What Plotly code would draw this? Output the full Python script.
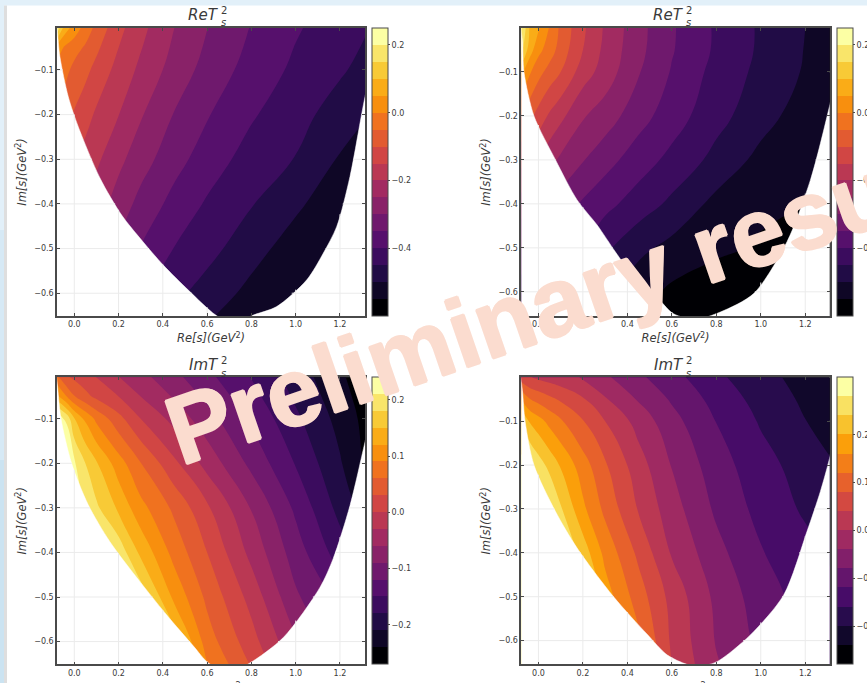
import numpy as np
import plotly.graph_objects as go
from plotly.colors import sample_colorscale

W, H = 867, 683

grid_x = [-0.08, -0.04, 0.0, 0.05, 0.1, 0.2, 0.3, 0.45, 0.6, 0.8, 1.0, 1.2, 1.32]
grid_y = [0.0, -0.05, -0.1, -0.2, -0.3, -0.4, -0.5, -0.6, -0.66]

z_a = [
    [0.22, 0.085, 0.037, -0.015, -0.06, -0.133, -0.184, -0.248, -0.298, -0.352, -0.393, -0.428, -0.447],
    [0.03, -0.01, -0.03, -0.057, -0.09, -0.15, -0.197, -0.258, -0.307, -0.36, -0.402, -0.435, -0.455],
    [-0.01, -0.035, -0.065, -0.087, -0.115, -0.168, -0.211, -0.27, -0.318, -0.37, -0.41, -0.444, -0.465],
    [-0.06, -0.085, -0.105, -0.13, -0.158, -0.199, -0.245, -0.302, -0.346, -0.394, -0.433, -0.471, -0.496],
    [-0.10, -0.12, -0.15, -0.17, -0.19, -0.237, -0.278, -0.331, -0.374, -0.421, -0.452, -0.505, -0.54],
    [-0.12, -0.14, -0.17, -0.2, -0.225, -0.272, -0.316, -0.366, -0.406, -0.447, -0.49, -0.535, -0.545],
    [-0.16, -0.18, -0.21, -0.24, -0.265, -0.31, -0.353, -0.401, -0.433, -0.48, -0.525, -0.545, -0.549],
    [-0.2, -0.22, -0.25, -0.28, -0.31, -0.35, -0.39, -0.437, -0.47, -0.515, -0.545, -0.549, -0.549],
    [-0.22, -0.24, -0.27, -0.3, -0.33, -0.37, -0.41, -0.46, -0.497, -0.535, -0.549, -0.549, -0.549],
]
z_b = [
    [0.22, 0.096, 0.057, -0.004, -0.061, -0.141, -0.207, -0.283, -0.344, -0.407, -0.457, -0.50, -0.515],
    [0.17, 0.075, 0.014, -0.024, -0.072, -0.15, -0.213, -0.286, -0.346, -0.408, -0.458, -0.502, -0.52],
    [0.07, 0.007, -0.032, -0.07, -0.1, -0.175, -0.223, -0.296, -0.354, -0.417, -0.463, -0.505, -0.525],
    [-0.05, -0.085, -0.12, -0.158, -0.187, -0.245, -0.274, -0.33, -0.376, -0.433, -0.48, -0.525, -0.545],
    [-0.13, -0.165, -0.2, -0.233, -0.26, -0.297, -0.331, -0.376, -0.414, -0.465, -0.515, -0.545, -0.549],
    [-0.22, -0.25, -0.28, -0.30, -0.32, -0.357, -0.385, -0.423, -0.461, -0.515, -0.54, -0.549, -0.549],
    [-0.30, -0.32, -0.34, -0.355, -0.37, -0.40, -0.44, -0.487, -0.515, -0.54, -0.556, -0.56, -0.56],
    [-0.38, -0.39, -0.41, -0.42, -0.43, -0.46, -0.49, -0.53, -0.56, -0.578, -0.59, -0.6, -0.6],
    [-0.42, -0.43, -0.45, -0.46, -0.47, -0.5, -0.53, -0.56, -0.58, -0.595, -0.6, -0.6, -0.6],
]
z_c = [
    [0.06, 0.027, 0.018, 0.008, -0.004, -0.033, -0.053, -0.084, -0.114, -0.153, -0.194, -0.236, -0.258],
    [0.13, 0.095, 0.062, 0.039, 0.023, 0.0, -0.03, -0.063, -0.097, -0.14, -0.185, -0.228, -0.255],
    [0.24, 0.207, 0.152, 0.114, 0.083, 0.04, 0.0, -0.04, -0.078, -0.125, -0.174, -0.22, -0.25],
    [0.24, 0.24, 0.215, 0.18, 0.153, 0.104, 0.061, 0.007, -0.041, -0.098, -0.152, -0.207, -0.245],
    [0.24, 0.24, 0.24, 0.21, 0.186, 0.144, 0.10, 0.054, 0.005, -0.062, -0.126, -0.19, -0.225],
    [0.24, 0.24, 0.24, 0.24, 0.24, 0.2, 0.143, 0.08, 0.03, -0.039, -0.105, -0.165, -0.2],
    [0.24, 0.24, 0.24, 0.24, 0.24, 0.24, 0.2, 0.113, 0.053, -0.011, -0.085, -0.13, -0.15],
    [0.24, 0.24, 0.24, 0.24, 0.24, 0.24, 0.24, 0.17, 0.075, 0.012, -0.056, -0.11, -0.13],
    [0.24, 0.24, 0.24, 0.24, 0.24, 0.24, 0.24, 0.2, 0.095, 0.03, -0.04, -0.09, -0.11],
]
z_d = [
    [0.06, 0.042, 0.032, 0.023, 0.015, -0.003, -0.033, -0.072, -0.106, -0.151, -0.188, -0.213, -0.225],
    [0.165, 0.122, 0.107, 0.09, 0.074, 0.044, 0.004, -0.044, -0.085, -0.134, -0.175, -0.207, -0.22],
    [0.25, 0.197, 0.175, 0.148, 0.125, 0.082, 0.04, -0.015, -0.066, -0.121, -0.164, -0.199, -0.22],
    [0.29, 0.29, 0.26, 0.227, 0.196, 0.138, 0.085, 0.017, -0.042, -0.102, -0.145, -0.178, -0.197],
    [0.29, 0.29, 0.29, 0.29, 0.245, 0.169, 0.11, 0.037, -0.023, -0.087, -0.133, -0.166, -0.185],
    [0.29, 0.29, 0.29, 0.29, 0.29, 0.223, 0.148, 0.071, -0.004, -0.067, -0.117, -0.147, -0.165],
    [0.29, 0.29, 0.29, 0.29, 0.29, 0.27, 0.18, 0.10, 0.026, -0.05, -0.10, -0.137, -0.155],
    [0.29, 0.29, 0.29, 0.29, 0.29, 0.28, 0.2, 0.13, 0.033, -0.043, -0.09, -0.13, -0.15],
    [0.29, 0.29, 0.29, 0.29, 0.29, 0.29, 0.22, 0.15, 0.04, -0.035, -0.08, -0.12, -0.14],
]

edge_x_a = [-0.085, -0.077, -0.065, -0.027, 0.018, 0.116, 0.214, 0.304, 0.402, 0.515, 0.639, 0.72, 0.808, 0.914, 1.05, 1.125, 1.185, 1.245, 1.313, 1.37]
edge_y_a = [0.02, -0.01, -0.07, -0.16, -0.227, -0.342, -0.425, -0.481, -0.537, -0.593, -0.649, -0.668, -0.649, -0.63, -0.57, -0.51, -0.451, -0.339, -0.16, -0.04]
edge_x_b = [-0.085, -0.072, -0.065, -0.02, 0.077, 0.174, 0.264, 0.346, 0.429, 0.526, 0.608, 0.71, 0.818, 0.968, 1.118, 1.223, 1.309, 1.37]
edge_y_b = [0.02, -0.03, -0.1, -0.2, -0.3, -0.391, -0.448, -0.509, -0.566, -0.608, -0.65, -0.662, -0.646, -0.604, -0.486, -0.346, -0.178, -0.04]
edge_x_c = [-0.085, -0.075, -0.06, -0.012, 0.063, 0.161, 0.266, 0.417, 0.538, 0.606, 0.70, 0.793, 0.944, 1.11, 1.169, 1.245, 1.313, 1.37]
edge_y_c = [0.02, -0.03, -0.1, -0.2, -0.293, -0.376, -0.446, -0.54, -0.61, -0.648, -0.668, -0.648, -0.591, -0.478, -0.414, -0.295, -0.152, -0.03]
edge_x_d = [-0.085, -0.072, -0.06, -0.02, 0.077, 0.174, 0.338, 0.488, 0.58, 0.668, 0.73, 0.803, 0.953, 1.103, 1.208, 1.268, 1.309, 1.37]
edge_y_d = [0.02, -0.03, -0.1, -0.2, -0.306, -0.389, -0.5, -0.585, -0.633, -0.654, -0.658, -0.648, -0.587, -0.496, -0.351, -0.26, -0.185, -0.04]

x_ticks = [0.0, 0.2, 0.4, 0.6, 0.8, 1.0, 1.2]
y_ticks = [-0.1, -0.2, -0.3, -0.4, -0.5, -0.6]

panels = [
    dict(z=z_a, ex=edge_x_a, ey=edge_y_a, name="Re", box=(57, 365, 28, 316), xr=(-0.078, 1.313), yr=(-0.651, -0.006),
         lv=(-0.60, 0.25, 0.05), cb=(372, 28, 316), cbt=[0.2, 0.0, -0.2, -0.4], tx=220, ty=15),
    dict(z=z_b, ex=edge_x_b, ey=edge_y_b, name="Re", box=(521.3, 829.7, 28, 316), xr=(-0.077, 1.31), yr=(-0.655, 0.0),
         lv=(-0.60, 0.25, 0.05), cb=(836.7, 28, 316), cbt=[0.2, 0.0, -0.2, -0.4], tx=684.7, ty=15),
    dict(z=z_c, ex=edge_x_c, ey=edge_y_c, name="Im", box=(57, 365, 377.3, 664.3), xr=(-0.078, 1.313), yr=(-0.651, -0.007),
         lv=(-0.27, 0.24, 0.03), cb=(372, 377.3, 664.3), cbt=[0.2, 0.1, 0.0, -0.1, -0.2], tx=220, ty=365),
    dict(z=z_d, ex=edge_x_d, ey=edge_y_d, name="Im", box=(521.3, 829.7, 377.3, 664.3), xr=(-0.077, 1.31), yr=(-0.654, 0.0),
         lv=(-0.28, 0.32, 0.04), cb=(836.7, 377.3, 664.3), cbt=[0.2, 0.1, 0.0, -0.1, -0.2], tx=684.7, ty=365),
]

TXT = "#3a3a3a"
FRAME = "#4a4a4a"
MATH = "DejaVu Sans"
MARK = "#fbdccf"
XTITLE = "<i>Re[s](GeV</i><sup>2</sup><i>)</i>"


def px(x):
    return x / W


def py(y):
    return 1 - y / H


def band_scale(n):
    cols = sample_colorscale("Inferno", [k / (n - 1) for k in range(n)])
    out = []
    for k, c in enumerate(cols):
        out += [[k / n, c], [(k + 1) / n, c]]
    return out


def grid_lines(ex, ey, xr, yr):
    ex, ey = np.array(ex), np.array(ey)
    low = int(np.argmin(ey))
    gx, gy = [], []
    for t in x_ticks:
        gx += [t, t, None]
        gy += [yr[0], float(np.interp(t, ex, ey)), None]
    for t in y_ticks:
        left = float(np.interp(t, ey[:low + 1][::-1], ex[:low + 1][::-1]))
        right = float(np.interp(t, ey[low:], ex[low:]))
        gx += [xr[0], left, None, right, xr[1], None]
        gy += [t, t, None, t, t, None]
    return gx, gy


fig = go.Figure()
layout = dict(
    width=W, height=H, margin=dict(l=0, r=0, t=0, b=0, autoexpand=False),
    paper_bgcolor="white", plot_bgcolor="white", showlegend=False,
    font=dict(family=MATH, size=8, color=TXT),
)
notes = []

for i, p in enumerate(panels):
    n = "" if i == 0 else str(i + 1)
    xa, ya = "x" + n, "y" + n
    x0, x1, y0, y1 = p["box"]
    lo, hi, step = p["lv"]
    cx, cy0, cy1 = p["cb"]
    nbands = int(round((hi - lo) / step))
    fig.add_trace(go.Contour(
        x=grid_x, y=grid_y, z=p["z"], xaxis=xa, yaxis=ya,
        colorscale=band_scale(nbands), zmin=lo, zmax=hi, autocontour=False,
        contours=dict(start=lo, end=hi, size=step, coloring="fill", showlines=False),
        line=dict(width=0, smoothing=1.3), hoverinfo="skip",
        colorbar=dict(
            x=px(cx), xanchor="left", xpad=0, y=py(cy1), yanchor="bottom", ypad=0,
            len=(cy1 - cy0) / H, lenmode="fraction", thickness=16, thicknessmode="pixels",
            outlinecolor=FRAME, outlinewidth=1, tickmode="array", tickvals=p["cbt"],
            tickformat=".1f", ticks="outside", ticklen=2, tickcolor=FRAME,
            tickfont=dict(family=MATH, size=8, color=TXT),
        ),
    ))
    fig.add_trace(go.Scatter(
        x=p["ex"] + [1.9, -0.6], y=p["ey"] + [-1.3, -1.3], xaxis=xa, yaxis=ya, mode="lines",
        fill="toself", fillcolor="white", line=dict(color="white", width=0.5, shape="spline", smoothing=0.8),
        hoverinfo="skip",
    ))
    gx, gy = grid_lines(p["ex"], p["ey"], p["xr"], p["yr"])
    fig.add_trace(go.Scatter(
        x=gx, y=gy, xaxis=xa, yaxis=ya, mode="lines",
        line=dict(color="#ebebeb", width=1), hoverinfo="skip",
    ))
    top_row = i < 2
    layout["xaxis" + n] = dict(
        domain=[px(x0), px(x1)], range=list(p["xr"]), anchor=ya, tickmode="array", tickvals=x_ticks,
        tickformat=".1f", ticks="inside", ticklen=3, tickcolor=FRAME, showline=True, linecolor=FRAME,
        linewidth=1.5, mirror="ticks", showgrid=False, zeroline=False,
        tickfont=dict(family=MATH, size=8, color=TXT),
        title=dict(text=XTITLE, font=dict(family=MATH, size=11.5, color=TXT), standoff=6) if top_row else None,
    )
    layout["yaxis" + n] = dict(
        domain=[py(y1), py(y0)], range=list(p["yr"]), anchor=xa, tickmode="array", tickvals=y_ticks,
        tickformat=".1f", ticks="inside", ticklen=3, tickcolor=FRAME, showline=True, linecolor=FRAME,
        linewidth=1.5, mirror="ticks", showgrid=False, zeroline=False,
        tickfont=dict(family=MATH, size=8, color=TXT),
        title=dict(text="<i>Im[s](GeV</i><sup>2</sup><i>)</i>", font=dict(family=MATH, size=11.5, color=TXT), standoff=5),
    )
    if not top_row:
        notes.append(dict(text=XTITLE, x=px((x0 + x1) / 2), y=py(688), xanchor="center", yanchor="middle",
                          font=dict(family=MATH, size=11.5, color=TXT)))
    tx, ty = p["tx"], p["ty"]
    notes.append(dict(text="<i>%sT</i>" % p["name"], x=px(tx), y=py(ty), xanchor="right", yanchor="middle",
                      font=dict(family=MATH, size=15, color=TXT)))
    notes.append(dict(text="2", x=px(tx), y=py(ty - 5), xanchor="left", yanchor="middle",
                      font=dict(family=MATH, size=10, color=TXT)))
    notes.append(dict(text="<i>s</i>", x=px(tx), y=py(ty + 8), xanchor="left", yanchor="middle",
                      font=dict(family=MATH, size=10, color=TXT)))

halo = ",".join("%dpx %dpx 0 %s" % (a, b, MARK) for a, b in [(1, 0), (-1, 0), (0, 1), (0, -1)])
notes.append(dict(text="Preliminary results", x=px(582), y=py(292), xanchor="center", yanchor="middle",
                  textangle=-19, font=dict(family="Liberation Sans", size=97, color=MARK, weight=700, shadow=halo)))
for a in notes:
    a.update(xref="paper", yref="paper", showarrow=False, borderpad=0, ax=0, ay=0)
layout["annotations"] = notes

strip = [(0, 0, 867, 5.5, "#e2f0f9"), (0, 0, 4, 230, "#e2f0f9"), (0, 230, 4, 460, "#d6e9f5"), (0, 460, 4, 683, "#cbe3f1"),
         (4, 5.5, 7, 683, "#dedede")]
layout["shapes"] = [dict(type="rect", xref="paper", yref="paper", x0=px(a), x1=px(c), y0=py(d), y1=py(b),
                         fillcolor=col, line=dict(width=0), layer="below") for a, b, c, d, col in strip]

fig.update_layout(**layout)
fig.write_html("out.html", config=dict(displayModeBar=False),
               post_script="document.body.style.margin='0';document.body.style.overflow='hidden';")
